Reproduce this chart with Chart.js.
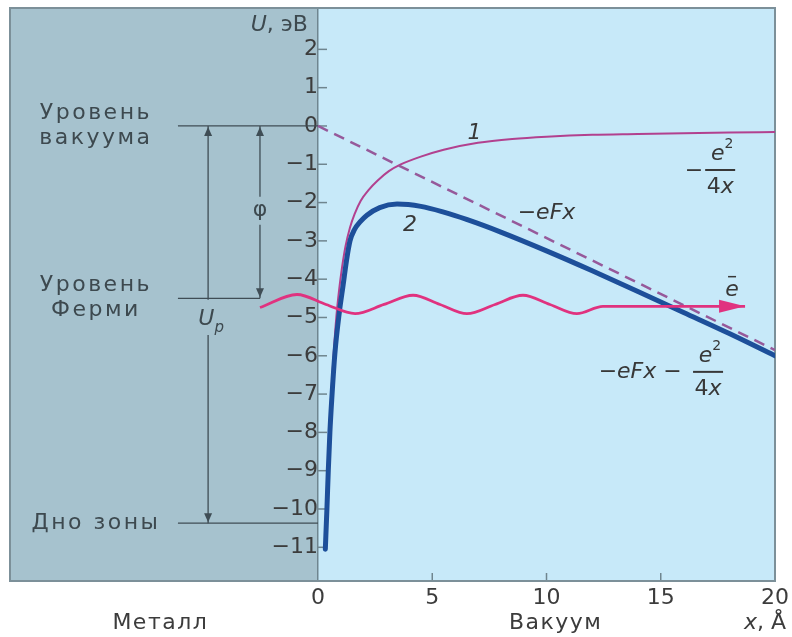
<!DOCTYPE html>
<html>
<head>
<meta charset="utf-8">
<script src="https://cdn.jsdelivr.net/npm/chart.js@4.4.0/dist/chart.umd.min.js"></script>
<style>
  html, body { margin: 0; padding: 0; background: #fff; }
</style>
</head>
<body>
<canvas id="chart-potential" width="792" height="637"></canvas>
<script>
// DADOS //
const xTicks = [0, 5, 10, 15, 20]
const yTicks = [-11, -10, -9, -8, -7, -6, -5, -4, -3, -2, -1, 0, 1, 2]

// curva 1: -e^2/4x
const imageX = [0.3, 0.36, 0.42, 0.49, 0.57, 0.69, 0.8, 0.92, 1.05, 1.2, 1.4, 1.6, 1.87, 2.2, 2.6, 3.1, 3.6, 4.5, 5.5, 7, 8.5, 10, 12, 14, 16, 18, 20]
const imageU = [-11.0, -10.0, -9.0, -8.0, -7.1, -5.9, -5.0, -4.3, -3.7, -3.15, -2.65, -2.3, -1.95, -1.68, -1.43, -1.18, -1.01, -0.8, -0.62, -0.44, -0.34, -0.28, -0.23, -0.21, -0.19, -0.17, -0.16]

// curva 2: -eFx - e^2/4x
const totalX = [0.32, 0.39, 0.45, 0.52, 0.6, 0.74, 0.93, 1.1, 1.25, 1.4, 1.6, 1.85, 2.14, 2.7, 3.46, 4.5, 5.5, 6.5, 8, 10, 12, 14, 16, 18, 20]
const totalU = [-11.05, -10.0, -9.0, -8.0, -7.15, -5.93, -4.88, -4.15, -3.5, -3.0, -2.7, -2.5, -2.33, -2.13, -2.04, -2.1, -2.25, -2.44, -2.77, -3.26, -3.78, -4.32, -4.87, -5.42, -6.0]

// -eFx (tracejada)
const fieldX = [0, 20]
const fieldU = [0, -5.85]

// elétron (onda + seta)
const waveX = [-2.54, -0.92, 0.35, 1.62, 2.89, 4.16, 5.34, 6.52, 7.75, 8.97, 10.15, 11.33, 12.47, 18.69]
const waveU = [-4.74, -4.40, -4.66, -4.90, -4.66, -4.42, -4.66, -4.90, -4.66, -4.42, -4.66, -4.90, -4.71, -4.71]

// níveis
const vacuumLevel = 0
const fermiLevel = -4.5
const bandBottom = -10.37
const levelStartX = -6.13
const phiArrowX = -2.54
const upArrowX = -4.81
const phiGap = [-1.85, -2.58]
const upGap = [-4.54, -5.46]

const FONT = '"DejaVu Sans"'
const toPoints = (xs, ys) => xs.map((x, i) => ({ x, y: ys[i] }))
const minus = v => String(v).replace('-', '\u2212')

// FUNÇÃO - TEXTO COM TRECHOS (normal / itálico / índice) //
function drawRuns(ctx, runs, cx, cy, align, color, size = 22) {
    const fontOf = f => f === 'i' ? `italic ${size}px ${FONT}`
        : f === 'sup' ? `14px ${FONT}`
        : f === 'sub' ? `italic 15px ${FONT}`
        : `${size}px ${FONT}`
    let w = 0
    runs.forEach(([t, f]) => { ctx.font = fontOf(f); w += ctx.measureText(t).width })
    let x = align === 'right' ? cx - w : align === 'left' ? cx : cx - w / 2
    ctx.fillStyle = color
    ctx.textAlign = 'left'
    ctx.textBaseline = 'middle'
    runs.forEach(([t, f]) => {
        ctx.font = fontOf(f)
        const dy = f === 'sup' ? -10 : f === 'sub' ? 9 : 0
        ctx.fillText(t, x, cy + dy)
        x += ctx.measureText(t).width
    })
}

function drawFraction(ctx, cx, cy, color) {
    drawRuns(ctx, [['e', 'i'], ['2', 'sup']], cx + 2, cy - 16, 'center', color)
    ctx.strokeStyle = color
    ctx.lineWidth = 2
    ctx.beginPath()
    ctx.moveTo(cx - 15, cy)
    ctx.lineTo(cx + 15, cy)
    ctx.stroke()
    drawRuns(ctx, [['4', 'n'], ['x', 'i']], cx, cy + 17, 'center', color)
}

function arrowHead(ctx, tx, ty, dx, dy, len, half, color) {
    const nx = -dy, ny = dx
    ctx.fillStyle = color
    ctx.beginPath()
    ctx.moveTo(tx, ty)
    ctx.lineTo(tx - dx * len + nx * half, ty - dy * len + ny * half)
    ctx.lineTo(tx - dx * len - nx * half, ty - dy * len - ny * half)
    ctx.closePath()
    ctx.fill()
}

// PLUGIN - FUNDO (metal / vácuo), MARCAS DOS EIXOS E TEXTOS //
const backdropPlugin = {
    id: 'backdrop',
    beforeDraw(chart) {
        const { ctx, chartArea: a, scales: { x } } = chart
        const x0 = x.getPixelForValue(0)
        ctx.save()
        ctx.fillStyle = '#ffffff'
        ctx.fillRect(0, 0, chart.width, chart.height)
        ctx.fillStyle = '#a6c2ce'
        ctx.fillRect(a.left, a.top, x0 - a.left, a.bottom - a.top)
        ctx.fillStyle = '#c7e9f9'
        ctx.fillRect(x0, a.top, a.right - x0, a.bottom - a.top)
        ctx.restore()
    },
    beforeDatasetsDraw(chart) {
        const { ctx, chartArea: a, scales: { x, y } } = chart
        const x0 = x.getPixelForValue(0)
        ctx.save()
        ctx.strokeStyle = '#6f858f'
        ctx.lineWidth = 1.5
        yTicks.forEach(v => {
            const py = y.getPixelForValue(v)
            ctx.beginPath(); ctx.moveTo(x0, py); ctx.lineTo(x0 + 9, py); ctx.stroke()
        })
        xTicks.slice(1, -1).forEach(v => {
            const px = x.getPixelForValue(v)
            ctx.beginPath(); ctx.moveTo(px, a.bottom); ctx.lineTo(px, a.bottom - 8); ctx.stroke()
        })
        ctx.strokeStyle = '#7c9099'
        ctx.lineWidth = 2
        ctx.strokeRect(a.left, a.top, a.right - a.left, a.bottom - a.top)
        ctx.restore()
    },
    afterDatasetsDraw(chart) {
        const { ctx, chartArea: a, scales: { x, y } } = chart
        const X = v => x.getPixelForValue(v)
        const Y = v => y.getPixelForValue(v)
        const lineCol = '#3f4d55'
        const metalText = '#3d494f'
        const vacText = '#383838'
        ctx.save()

        // setas φ e Up
        arrowHead(ctx, X(phiArrowX), Y(vacuumLevel) + 1, 0, -1, 9, 4, lineCol)
        arrowHead(ctx, X(phiArrowX), Y(fermiLevel) - 1, 0, 1, 9, 4, lineCol)
        arrowHead(ctx, X(upArrowX), Y(vacuumLevel) + 1, 0, -1, 9, 4, lineCol)
        arrowHead(ctx, X(upArrowX), Y(bandBottom) - 1, 0, 1, 9, 4, lineCol)

        // seta do elétron
        const last = waveX.length - 1
        arrowHead(ctx, X(waveX[last]), Y(waveU[last]), 1, 0, 26, 6.5, '#e0327f')

        // textos do metal
        ctx.letterSpacing = '2.5px'
        const lx = X(-9.72)
        ;[['Уровень', Y(vacuumLevel) - 13], ['вакуума', Y(vacuumLevel) + 12],
          ['Уровень', Y(fermiLevel) - 13], ['Ферми', Y(fermiLevel) + 12],
          ['Дно зоны', Y(bandBottom)]].forEach(([t, py]) => {
            drawRuns(ctx, [[t, 'n']], lx, py, 'center', metalText, 22)
        })
        ctx.letterSpacing = '0px'
        drawRuns(ctx, [['φ', 'n']], X(phiArrowX), Y(-2.2), 'center', metalText)
        drawRuns(ctx, [['U', 'i'], ['p', 'sub']], X(upArrowX) + 3, Y(-5.05), 'center', metalText)
        drawRuns(ctx, [['U', 'i'], [', эВ', 'n']], X(-0.44), Y(2.64), 'right', metalText)

        // textos do vácuo
        drawRuns(ctx, [['1', 'i']], X(6.85), Y(-0.2), 'center', vacText)
        drawRuns(ctx, [['2', 'i']], X(4.03), Y(-2.58), 'center', vacText)
        drawRuns(ctx, [['\u2212', 'n'], ['eFx', 'i']], X(10.0), Y(-2.27), 'center', vacText)
        drawRuns(ctx, [['\u2212', 'n']], X(16.45), Y(-1.18), 'center', vacText)
        drawFraction(ctx, X(17.6), Y(-1.15), vacText)
        drawRuns(ctx, [['\u2212', 'n'], ['eFx', 'i'], [' \u2212', 'n']], X(14.1), Y(-6.42), 'center', vacText)
        drawFraction(ctx, X(17.07), Y(-6.42), vacText)
        drawRuns(ctx, [['e', 'i']], X(18.12), Y(-4.3), 'center', vacText)
        ctx.strokeStyle = vacText
        ctx.lineWidth = 1.5
        ctx.beginPath(); ctx.moveTo(X(18.12) - 4, Y(-4.3) - 14); ctx.lineTo(X(18.12) + 4, Y(-4.3) - 14); ctx.stroke()

        // rodapé
        ctx.letterSpacing = '1.5px'
        drawRuns(ctx, [['Металл', 'n']], X(-6.9), a.bottom + 42, 'center', '#3c3c3c')
        drawRuns(ctx, [['Вакуум', 'n']], X(10.4), a.bottom + 42, 'center', '#3c3c3c')
        ctx.letterSpacing = '0px'
        drawRuns(ctx, [['x', 'i'], [', Å', 'n']], X(19.56), a.bottom + 42, 'center', '#3c3c3c')
        ctx.restore()
    }
}

// ELEMENTOS //
const chartCanvas = document.getElementById('chart-potential').getContext('2d')

const lineStyle = { showLine: true, pointRadius: 0, fill: false }
const annotation = (data) => ({ ...lineStyle, data, borderColor: '#3f4d55', borderWidth: 1.3, spanGaps: false })

new Chart(chartCanvas, {
    type: 'scatter',
    data: {
        datasets: [
            { ...lineStyle, label: 'e', data: toPoints(waveX, waveU), borderColor: '#e0327f', borderWidth: 2.8, cubicInterpolationMode: 'monotone' },
            { ...lineStyle, label: '2', data: toPoints(totalX, totalU), borderColor: '#1d4f9a', borderWidth: 5, borderCapStyle: 'round', cubicInterpolationMode: 'monotone' },
            { ...lineStyle, label: '-eFx', data: toPoints(fieldX, fieldU), borderColor: '#96599a', borderWidth: 2.5, borderDash: [11, 7] },
            { ...lineStyle, label: '1', data: toPoints(imageX, imageU), borderColor: '#b2418f', borderWidth: 2, cubicInterpolationMode: 'monotone' },
            annotation([{ x: levelStartX, y: vacuumLevel }, { x: 0, y: vacuumLevel }]),
            annotation([{ x: levelStartX, y: fermiLevel }, { x: phiArrowX, y: fermiLevel }]),
            annotation([{ x: levelStartX, y: bandBottom }, { x: 0, y: bandBottom }]),
            annotation([{ x: phiArrowX, y: vacuumLevel }, { x: phiArrowX, y: phiGap[0] }, { x: phiArrowX, y: null }, { x: phiArrowX, y: phiGap[1] }, { x: phiArrowX, y: fermiLevel }]),
            annotation([{ x: upArrowX, y: vacuumLevel }, { x: upArrowX, y: upGap[0] }, { x: upArrowX, y: null }, { x: upArrowX, y: upGap[1] }, { x: upArrowX, y: bandBottom }])
        ]
    },
    options: {
        responsive: false,
        animation: false,
        events: [],
        layout: { padding: { left: 10, right: 17, top: 8, bottom: 24 } },
        scales: {
            x: {
                type: 'linear',
                min: -13.48,
                max: 20,
                afterBuildTicks: axis => { axis.ticks = xTicks.map(value => ({ value })) },
                afterFit: axis => { axis.height = 32; axis.paddingLeft = 0; axis.paddingRight = 0 },
                grid: { display: false, drawTicks: false },
                border: { display: false },
                ticks: { color: '#3c3c3c', padding: 4, maxRotation: 0, autoSkip: false, font: { family: 'DejaVu Sans', size: 22 }, callback: minus }
            },
            y: {
                type: 'linear',
                min: -11.88,
                max: 3.08,
                position: { x: 0 },
                afterBuildTicks: axis => { axis.ticks = yTicks.map(value => ({ value })) },
                afterFit: axis => { axis.paddingTop = 0; axis.paddingBottom = 0 },
                grid: { display: false, drawTicks: false },
                border: { display: true, color: '#6f858f', width: 1.5 },
                ticks: { color: '#3c3c3c', padding: 10, autoSkip: false, font: { family: 'DejaVu Sans', size: 22 }, callback: minus }
            }
        },
        plugins: {
            legend: { display: false },
            tooltip: { enabled: false }
        }
    },
    plugins: [backdropPlugin]
})
</script>
</body>
</html>
